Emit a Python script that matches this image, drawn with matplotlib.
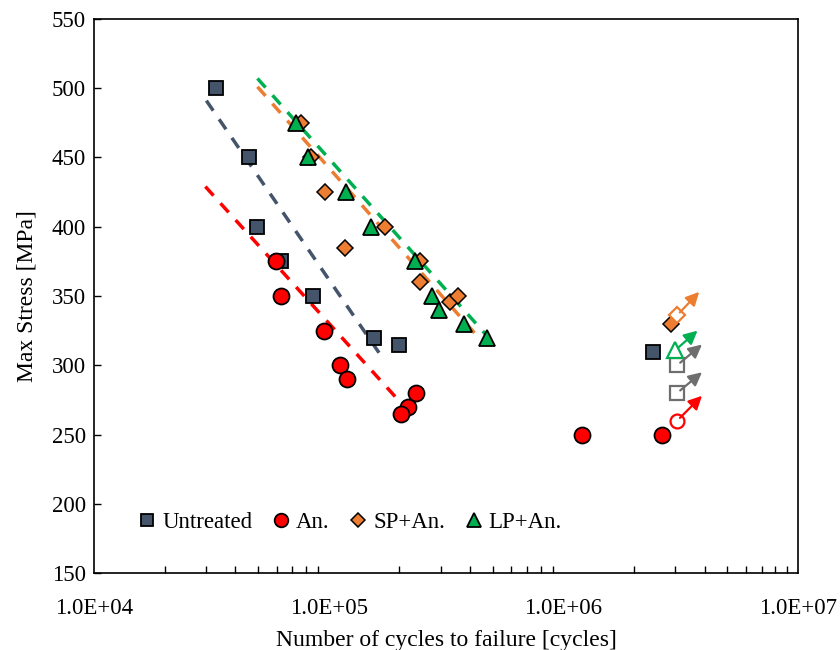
import math
import matplotlib
matplotlib.use("Agg")
import matplotlib.pyplot as plt
import matplotlib.transforms as mtransforms
from matplotlib.ticker import FuncFormatter, LogLocator, NullFormatter

plt.rcParams['font.family'] = ['Liberation Serif', 'DejaVu Serif']

# ---- data ----
untreated_n = [33200, 45900, 49300, 62400, 85400, 155700, 199000, 2.40e6]
untreated_s = [500, 450, 400, 375, 350, 320, 315, 310]
an_n = [59400, 62400, 95200, 111400, 119400, 217700, 235300, 203000, 1.20e6, 2.62e6]
an_s = [375, 350, 325, 300, 290, 270, 280, 265, 250, 250]
sp_n = [75900, 83800, 96100, 173500, 117100, 244800, 245000, 329000, 355900, 2.87e6]
sp_s = [475, 450, 425, 400, 385, 375, 360, 346, 350, 330]
lp_n = [72300, 81300, 118300, 151100, 233000, 275500, 295000, 377000, 473000]
lp_s = [475, 450, 425, 400, 375, 350, 340, 330, 320]

# run-outs (open markers with arrows)
runout_untreated_n = [3.05e6, 3.05e6]
runout_untreated_s = [300, 280]
runout_an_n = [3.05e6]
runout_an_s = [260]
runout_sp_n = [3.05e6]
runout_sp_s = [336]
runout_lp_n = [3.0e6]
runout_lp_s = [311]

# trend lines (endpoints)
trend_untreated_n = [30100, 171800]
trend_untreated_s = [491, 304]
trend_an_n = [29800, 235000]
trend_an_s = [429, 261]
trend_sp_n = [49700, 420000]
trend_sp_s = [501, 323]
trend_lp_n = [49700, 492000]
trend_lp_s = [507, 318]

labels = ['Untreated', 'An.', 'SP+An.', 'LP+An.']
c_unt = '#44546A'
c_an = '#FF0000'
c_sp = '#ED7D31'
c_lp = '#00B050'

fig = plt.figure(figsize=(8.4, 6.5), dpi=100)
ax = fig.add_axes([0.112, 0.118, 0.838, 0.853])
ax.set_xscale('log')
ax.set_xlim(1e4, 1e7)
ax.set_ylim(150, 550)

# trend lines
for tn, ts, c in [(trend_untreated_n, trend_untreated_s, c_unt),
                  (trend_an_n, trend_an_s, c_an),
                  (trend_sp_n, trend_sp_s, c_sp),
                  (trend_lp_n, trend_lp_s, c_lp)]:
    ax.plot(tn, ts, color=c, lw=2.5, dashes=(3.5, 3), zorder=2)

ms = 10.5
ax.plot(untreated_n, untreated_s, 's', ms=ms, mfc=c_unt, mec='black', mew=1.3, ls='none', label=labels[0], zorder=3)
ax.plot(an_n, an_s, 'o', ms=ms + 1, mfc=c_an, mec='black', mew=1.3, ls='none', label=labels[1], zorder=3)
ax.plot(sp_n, sp_s, 'D', ms=ms - 2.5, mfc=c_sp, mec='black', mew=1.1, ls='none', label=labels[2], zorder=3)
ax.plot(lp_n, lp_s, '^', ms=ms + 1, mfc=c_lp, mec='black', mew=1.3, ls='none', label=labels[3], zorder=4)

# run-outs
def runouts(ns, ss, marker, color, size, dx, dy):
    ax.plot(ns, ss, marker, ms=size, mfc='white', mec=color, mew=1.6, ls='none', zorder=4)
    for n, s in zip(ns, ss):
        tip = mtransforms.offset_copy(ax.transData, fig=fig, x=dx, y=dy, units='points')
        ax.annotate('', xy=(n, s), xycoords=tip, xytext=(n, s), textcoords='data',
                    arrowprops=dict(arrowstyle='-|>', color=color, lw=1.6,
                                    mutation_scale=20, shrinkA=3, shrinkB=0), zorder=5)

runouts(runout_untreated_n, runout_untreated_s, 's', '#6E6E6E', 10, 18, 15)
runouts(runout_an_n, runout_an_s, 'o', c_an, 10, 18, 18)
runouts(runout_sp_n, runout_sp_s, 'D', c_sp, 8, 16, 17)
runouts(runout_lp_n, runout_lp_s, '^', c_lp, 11, 16, 14)

# axes formatting
ax.xaxis.set_major_locator(LogLocator(base=10, numticks=10))
ax.xaxis.set_minor_locator(LogLocator(base=10, subs=range(2, 10), numticks=100))
ax.xaxis.set_minor_formatter(NullFormatter())
ax.xaxis.set_major_formatter(FuncFormatter(lambda v, p: '1.0E+%02d' % round(math.log10(v))))
ax.set_yticks(range(150, 551, 50))
ax.tick_params(axis='both', which='major', direction='in', labelsize=16.5, length=5, width=1,
               top=False, right=False, pad=6)
ax.tick_params(axis='x', which='major', length=0, pad=18)
ax.tick_params(axis='x', which='minor', direction='in', length=5, width=1, top=False)
for sp in ax.spines.values():
    sp.set_linewidth(1.2)

ax.set_xlabel('Number of cycles to failure [cycles]', fontsize=17, labelpad=8)
ax.set_ylabel('Max Stress [MPa]', fontsize=17, labelpad=10)

leg = ax.legend(loc='lower left', bbox_to_anchor=(0.04, 0.047), ncol=4, frameon=False,
                fontsize=16.5, handletextpad=0.15, columnspacing=0.75, handlelength=1.0,
                markerscale=0.85, borderaxespad=0.2)

fig.savefig('out.png', dpi=100)
